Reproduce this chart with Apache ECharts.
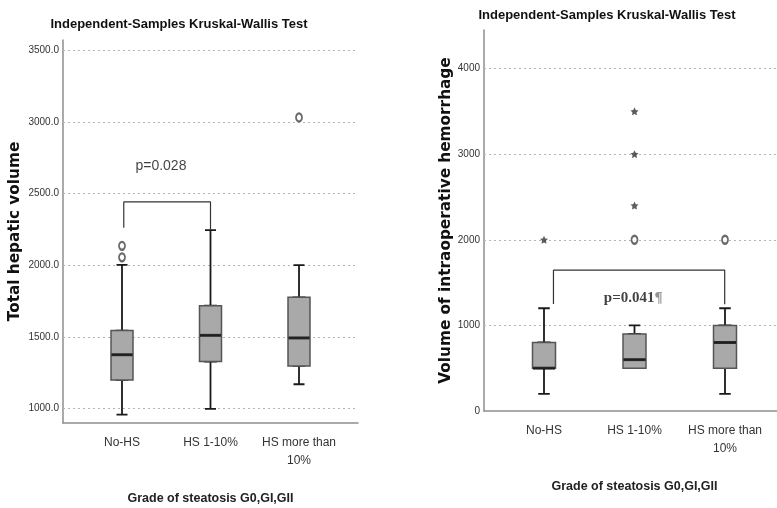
<!DOCTYPE html>
<html>
<head>
<meta charset="utf-8">
<script src="https://cdn.jsdelivr.net/npm/echarts@6.0.0/dist/echarts.min.js"></script>
<style>
  html, body { margin: 0; padding: 0; background: #fff; }
  #chart { width: 777px; height: 508px; }
</style>
</head>
<body>
<div id="chart"></div>
<script>
// categories shared by both panels
const categories = ['No-HS', 'HS 1-10%', 'HS more than\n10%'];

// left panel: total hepatic volume  [min, Q1, median, Q3, max]
const volumeBox = [
  [958, 1200, 1376, 1544, 2003],
  [998, 1328, 1511, 1718, 2245],
  [1170, 1298, 1493, 1776, 2000]
];
const volumeCircles = [[0, 2135], [0, 2055], [2, 3030]];
const volumeTicks = [1000, 1500, 2000, 2500, 3000, 3500];
// bracket drawn in category-index units
const volumeBracket = [[0.02, 2262], [0.02, 2441], [1.0, 2441], [1.0, 2248]];
const volumeP = [[0.44, 2688, 'p=0.028']];

// right panel: volume of intraoperative hemorrhage
const hemoBox = [
  [200, 500, 500, 800, 1200],
  [500, 500, 600, 900, 1000],
  [200, 500, 800, 1000, 1200]
];
const hemoCircles = [[1, 2000], [2, 2000]];
const hemoStars = [[0, 2000], [1, 2400], [1, 3000], [1, 3500]];
const hemoTicks = [0, 1000, 2000, 3000, 4000];
const hemoBracket = [[0.1, 1250], [0.1, 1645], [1.99, 1645], [1.99, 1248]];
const hemoP = [[0.98, 1318, 'p=0.041']];

const titleText = 'Independent-Samples Kruskal-Wallis Test';
const xName = 'Grade of steatosis G0,GI,GII';

const SANS = '"Liberation Sans", Arial, sans-serif';
const STAR = 'path://M0,-10L2.9,-4L9.5,-3.1L4.7,1.5L5.9,8.1L0,5L-5.9,8.1L-4.7,1.5L-9.5,-3.1L-2.9,-4Z';
const axisColor = '#8e8e8e';

const chart = echarts.init(document.getElementById('chart'), null, { renderer: 'canvas' });

// one panel = outer grid (axis frame, gridlines, bracket) + inner grid (categories, boxes)
function panel(cfg) {
  const g = cfg.gridBase;
  const grids = [
    { left: cfg.outer[0], top: cfg.top, width: cfg.outer[1], height: cfg.height, outerBoundsMode: 'none', containLabel: false },
    { left: cfg.inner[0], top: cfg.top, width: cfg.inner[1], height: cfg.height, outerBoundsMode: 'none', containLabel: false }
  ];
  const xAxes = [
    { gridIndex: g, type: 'value', min: -2 / 3, max: 8 / 3,
      axisLine: { show: true, onZero: false, lineStyle: { color: axisColor, width: 1.5 } },
      axisTick: { show: false }, axisLabel: { show: false }, splitLine: { show: false } },
    { gridIndex: g + 1, type: 'category', data: categories,
      axisLine: { show: false }, axisTick: { show: false },
      axisLabel: { interval: 0, margin: 11, color: '#333', fontFamily: SANS, fontSize: 12, lineHeight: 18 },
      name: xName, nameLocation: 'middle', nameGap: cfg.xNameGap,
      nameTextStyle: { color: '#222', fontFamily: SANS, fontSize: 12.5, fontWeight: 'bold' } },
    { gridIndex: g + 1, type: 'category', data: categories, position: 'top', show: false }
  ];
  const yAxes = [
    { gridIndex: g, type: 'value', min: cfg.min, max: cfg.max, interval: cfg.step,
      axisLine: { show: true, onZero: false, lineStyle: { color: axisColor, width: 1.5 } },
      axisTick: { show: false }, splitLine: { show: false },
      axisLabel: { margin: 4, color: '#333', fontFamily: SANS, fontSize: 10,
        formatter: v => cfg.ticks.includes(v) ? cfg.fmt(v) : '' },
      name: cfg.yName, nameLocation: 'middle', nameGap: cfg.yNameGap,
      nameTextStyle: { color: '#111', fontFamily: '"DejaVu Sans", sans-serif', fontSize: 15.3, fontWeight: 'bold' } },
    { gridIndex: g + 1, type: 'value', min: cfg.min, max: cfg.max, show: false }
  ];
  const xo = cfg.xBase, yo = cfg.yBase;
  const series = [
    { type: 'line', xAxisIndex: xo, yAxisIndex: yo, data: [], silent: true, z: 1,
      markLine: { silent: true, symbol: 'none', z: 1, label: { show: false },
        lineStyle: { type: [2, 3], color: '#b4b4b4', width: 1.2 },
        data: cfg.ticks.filter(v => v > cfg.min).map(v => ({ yAxis: v })) } },
    // whiskers with narrow caps
    { type: 'boxplot', xAxisIndex: xo + 1, yAxisIndex: yo + 1, data: cfg.box, z: 2,
      boxWidth: [cfg.boxW / 2, cfg.boxW / 2], silent: true,
      itemStyle: { color: '#a9a9a9', borderColor: '#1a1a1a', borderWidth: 1.8 } },
    // full width boxes
    { type: 'boxplot', xAxisIndex: xo + 2, yAxisIndex: yo + 1, z: 3,
      data: cfg.box.map(b => [b[1], b[1], b[2], b[3], b[3]]),
      boxWidth: [cfg.boxW, cfg.boxW], silent: true,
      itemStyle: { color: '#a9a9a9', borderColor: '#555', borderWidth: 1.5 } },
    { type: 'scatter', xAxisIndex: xo + 1, yAxisIndex: yo + 1, z: 4, silent: true,
      data: cfg.box.map((b, i) => [i, b[2]]), symbol: 'rect', symbolSize: [cfg.boxW - 1, 3],
      itemStyle: { color: '#111' } },
    { type: 'scatter', xAxisIndex: xo + 1, yAxisIndex: yo + 1, z: 4, silent: true,
      data: cfg.circles, symbol: 'emptyCircle', symbolSize: [6, 8],
      itemStyle: { color: '#444', borderWidth: 1.3 } },
    { type: 'line', xAxisIndex: xo, yAxisIndex: yo, data: cfg.bracket, z: 4, silent: true,
      symbol: 'none', lineStyle: { color: '#333', width: 1.2 } },
    { type: 'scatter', xAxisIndex: xo, yAxisIndex: yo, z: 5, silent: true,
      data: cfg.pText, symbolSize: 0,
      label: { show: true, position: 'inside', formatter: p => cfg.pFmt(p.data[2]),
        color: '#111', fontFamily: cfg.pFont, fontSize: cfg.pSize, fontWeight: cfg.pWeight,
        rich: cfg.pRich } }
  ];
  if (cfg.stars) {
    series.push({ type: 'scatter', xAxisIndex: xo + 1, yAxisIndex: yo + 1, z: 4, silent: true,
      data: cfg.stars, symbol: STAR, symbolSize: 8, itemStyle: { color: '#333' } });
  }
  return { grids, xAxes, yAxes, series };
}

const left = panel({
  gridBase: 0, xBase: 0, yBase: 0, outer: [63, 295], inner: [77.75, 265.5], top: 40, height: 383,
  min: 900, max: 3570, step: 100, ticks: volumeTicks, fmt: v => v.toFixed(1),
  yName: 'Total hepatic volume', yNameGap: 40, xNameGap: 69,
  box: volumeBox, boxW: 22, circles: volumeCircles, bracket: volumeBracket, pText: volumeP,
  pFmt: t => t, pFont: SANS, pSize: 14, pWeight: 'normal'
});
const right = panel({
  gridBase: 2, xBase: 3, yBase: 2, outer: [484, 302], inner: [498.75, 271.5], top: 30, height: 381,
  min: 0, max: 4450, step: 1000, ticks: hemoTicks, fmt: v => String(v),
  yName: 'Volume of intraoperative hemorrhage', yNameGap: 30, xNameGap: 69,
  box: hemoBox, boxW: 23, circles: hemoCircles, stars: hemoStars, bracket: hemoBracket, pText: hemoP,
  pFmt: t => '{a|' + t + '}{b|¶}', pFont: '"Liberation Serif", serif', pSize: 15, pWeight: 'bold',
  pRich: {
    a: { fontFamily: '"Liberation Serif", serif', fontSize: 15, fontWeight: 'bold', color: '#111' },
    b: { fontFamily: '"Liberation Serif", serif', fontSize: 15, fontWeight: 'bold', color: '#777' }
  }
});

const option = {
  animation: false,
  backgroundColor: '#fff',
  title: [
    { text: titleText, left: 179, top: 18, textAlign: 'center', padding: 0,
      textStyle: { color: '#111', fontFamily: SANS, fontSize: 13, fontWeight: 'bold' } },
    { text: titleText, left: 607, top: 9, textAlign: 'center', padding: 0,
      textStyle: { color: '#111', fontFamily: SANS, fontSize: 13, fontWeight: 'bold' } }
  ],
  grid: left.grids.concat(right.grids),
  xAxis: left.xAxes.concat(right.xAxes),
  yAxis: left.yAxes.concat(right.yAxes),
  series: left.series.concat(right.series)
};

chart.setOption(option);
</script>
</body>
</html>
